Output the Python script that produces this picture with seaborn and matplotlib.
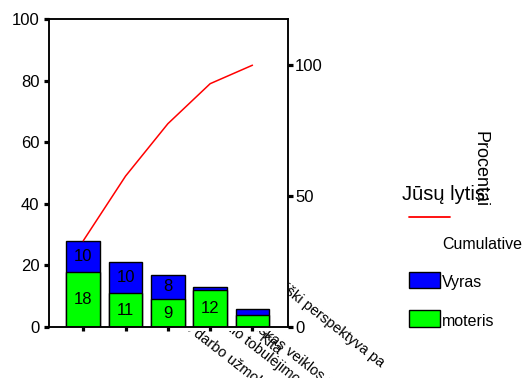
import numpy as np
import pandas as pd
import matplotlib
matplotlib.use("Agg")
import matplotlib.pyplot as plt
import seaborn as sns
from matplotlib.patches import Rectangle
from matplotlib.lines import Line2D
from matplotlib.font_manager import FontProperties

# Reasons named by respondents, ordered by frequency (Pareto order)
categories = [
    "Geras darbo užmokestis",
    "Profesinio tobulėjimo galimybės",
    "Savarankiškas veiklos pobūdis",
    "Karjeros ir asmeniški perspektyva pa",
    "Kita",
]
moteris = [18, 11, 9, 12, 4]
vyras = [10, 10, 8, 1, 2]
left_ticks = [0, 20, 40, 60, 80, 100]
right_ticks = [0, 50, 100]
legend_title = "Jūsų lytis:"
line_name = "Cumulative"
group_names = ["Vyras", "moteris"]
right_label = "Procentai"

totals = np.add(moteris, vyras)
cum_pct = np.cumsum(totals) / totals.sum() * 100

sns.set_theme(style="white")
plt.rcParams["font.family"] = ["Liberation Sans", "DejaVu Sans"]
plt.rcParams.update({"text.color": "black", "axes.labelcolor": "black",
                     "xtick.color": "black", "ytick.color": "black",
                     "axes.edgecolor": "black"})

W, H = 525, 378
fig = plt.figure(figsize=(W / 100, H / 100), dpi=100)
fig.patch.set_facecolor("white")


def fx(x):
    return x / W


def fy(y):
    return 1 - y / H


BLUE, GREEN = "#0000FF", "#00FF00"

ax = fig.add_axes([fx(49), fy(327), fx(288) - fx(49), fy(19) - fy(327)])
ax.set_facecolor("white")
df = pd.DataFrame({"cat": categories, "total": totals, "moteris": moteris})
sns.barplot(data=df, x="cat", y="total", color=BLUE, saturation=1, width=0.8,
            edgecolor="black", linewidth=1, errorbar=None, ax=ax)
sns.barplot(data=df, x="cat", y="moteris", color=GREEN, saturation=1, width=0.8,
            edgecolor="black", linewidth=1, errorbar=None, ax=ax)

# segment value labels
for i, (m, v) in enumerate(zip(moteris, vyras)):
    if m >= 5:
        ax.text(i, m / 2, str(m), ha="center", va="center", fontsize=12,
                color="black", zorder=5)
    if v >= 5:
        ax.text(i, m + v / 2, str(v), ha="center", va="center", fontsize=12,
                color="black", zorder=5)

ax.set_xlim(-0.81, 4.84)
ax.set_ylim(0, 100)
ax.set_yticks(left_ticks)
ax.set_yticklabels([str(t) for t in left_ticks])
ax.set_xticks(range(len(categories)))
ax.set_xticklabels([])
ax.set_xlabel("")
ax.set_ylabel("")
for s in ax.spines.values():
    s.set_visible(True)
    s.set_color("black")
    s.set_linewidth(1.1)
ax.tick_params(axis="y", which="both", left=True, direction="out", length=3.8,
               width=2.3, labelsize=12, pad=3, colors="black")
ax.tick_params(axis="x", which="both", bottom=True, direction="out", length=2.6,
               width=2.3, colors="black")

ax2 = ax.twinx()
sns.lineplot(x=np.arange(len(categories)), y=cum_pct, color="red", linewidth=1.1, ax=ax2)
ax2.set_ylim(0, 100 * 100 / totals.sum())
ax2.set_yticks(right_ticks)
ax2.set_yticklabels([str(t) for t in right_ticks])
ax2.set_xlim(-0.81, 4.84)
ax2.tick_params(axis="y", which="both", right=True, direction="out", length=3.5,
                width=2.3, labelsize=12, pad=1.5, colors="black")
ax2.set_ylabel(right_label, rotation=270, fontsize=13, color="black")
ax2.yaxis.set_label_coords((480 - 49) / 239, (327 - 169) / 308)
ax2.yaxis.label.set_ha("center")
ax2.yaxis.label.set_va("center")
for s in ax2.spines.values():
    s.set_visible(True)
    s.set_color("black")
    s.set_linewidth(1.1)

# plot-area mask: long category labels run underneath it
fig.add_artist(Rectangle((fx(49), fy(331)), fx(288) - fx(49), fy(19) - fy(331),
                         facecolor="white", edgecolor="none",
                         transform=fig.transFigure, zorder=-0.5))

# rotated category labels, drawn beneath the plot area
renderer = fig.canvas.get_renderer()
fp = FontProperties(family=["Liberation Sans"], size=10.5)


def text_width(s):
    w, _, _ = renderer.get_text_width_height_descent(s, fp, ismath=False)
    return w


label_starts = [6, 9, 10, 18, 0]
label_points = [(199, 326), (240, 326), (270, 328), (291, 284), (265, 331)]
angle = 38
th = np.deg2rad(angle)
for lab, k, (vx, vy) in zip(categories, label_starts, label_points):
    off = text_width(lab) - text_width(lab[k:]) if k else 0.0
    axx = vx - off * np.cos(th)
    ayy = vy - off * np.sin(th)
    fig.text(fx(axx), fy(ayy), lab, rotation=-angle, rotation_mode="anchor",
             ha="left", va="top", fontproperties=fp, color="black", zorder=-1)

# legend
fig.text(fx(402), fy(200), legend_title, fontsize=14.5, ha="left", va="baseline",
         color="black")
fig.add_artist(Line2D([fx(409), fx(450)], [fy(217.5), fy(217.5)], color="red", lw=1.3))
fig.text(fx(442), fy(249), line_name, fontsize=11.5, ha="left", va="baseline",
         color="black")
for (name, col, y0, y1, yb) in [(group_names[0], BLUE, 272, 288, 287),
                                (group_names[1], GREEN, 310, 327, 326)]:
    fig.add_artist(Rectangle((fx(409), fy(y1)), fx(440) - fx(409), fy(y0) - fy(y1),
                             facecolor=col, edgecolor="black", lw=1,
                             transform=fig.transFigure))
    fig.text(fx(442), fy(yb), name, fontsize=11.5, ha="left", va="baseline",
             color="black")

fig.savefig("out.png", dpi=100)
